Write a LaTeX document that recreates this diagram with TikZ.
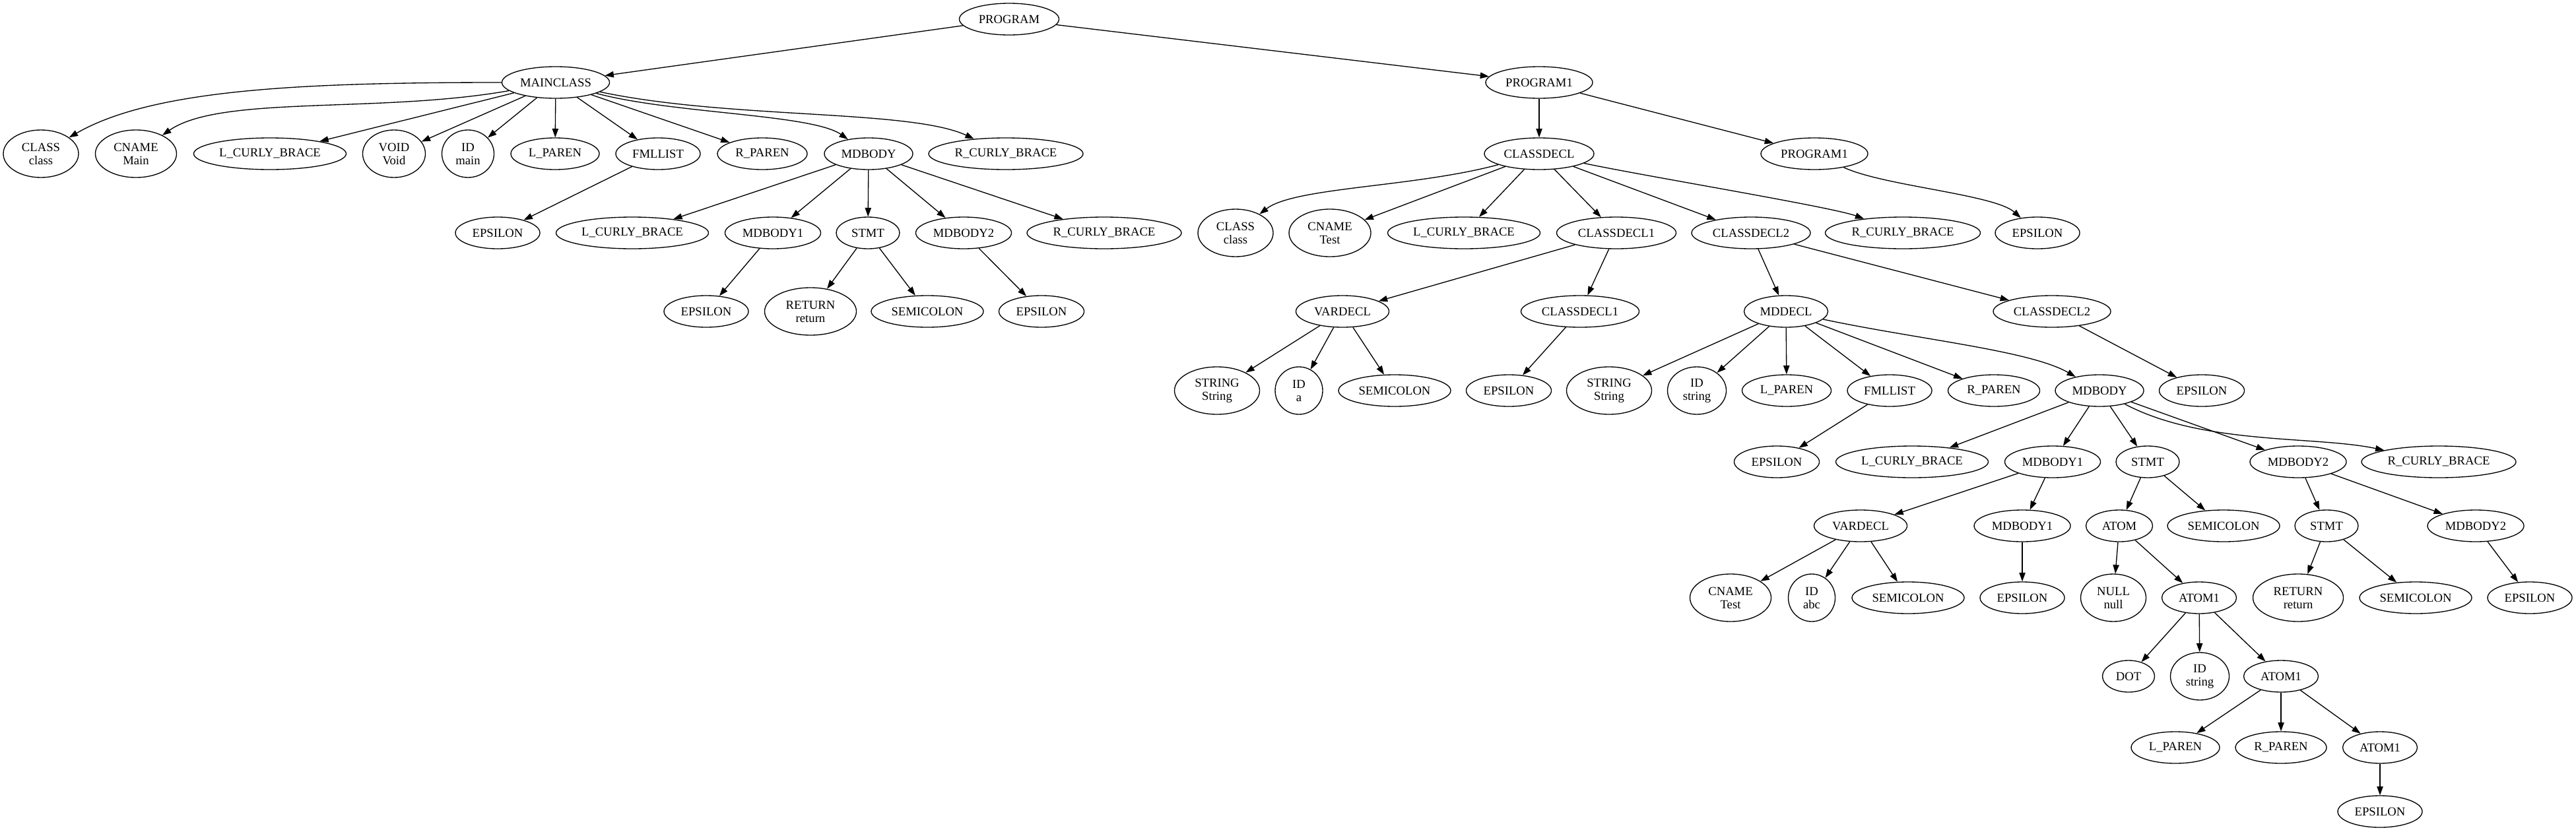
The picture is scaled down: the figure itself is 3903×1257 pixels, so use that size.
\documentclass[tikz,border=0pt]{standalone}
\usepackage{fontspec}
\setmainfont{Liberation Serif}
\usetikzlibrary{shapes.geometric,arrows.meta}
\tikzset{
  gv/.style={draw, ellipse, inner sep=0pt, line width=1pt, align=center,
    font=\fontsize{14pt}{15pt}\selectfont, minimum height=36pt},
  two/.style={minimum height=54pt},
  ewd/.style={minimum width=#1*0.75pt},
  arr/.style={-{Triangle[length=10pt,width=7pt]}, line width=1pt},
}
\begin{document}
\begin{tikzpicture}[x=0.75pt,y=-0.75pt]
\useasboundingbox (0,0) rectangle (3903,1257);
% level 0,1
\node[gv,ewd=151] (prog) at (1529,29) {PROGRAM};
\node[gv,ewd=163] (main) at (842,125) {MAINCLASS};
\node[gv,ewd=162] (p1) at (2332,125) {PROGRAM1};
% level 2 (y=233)
\node[gv,two,ewd=114] (a1) at (62,233) {CLASS\\class};
\node[gv,two,ewd=123] (a2) at (206,233) {CNAME\\Main};
\node[gv,ewd=231] (a3) at (409,233) {L\_CURLY\_BRACE};
\node[gv,two,ewd=95] (a4) at (597,233) {VOID\\Void};
\node[gv,two,ewd=79] (a5) at (709,233) {ID\\main};
\node[gv,ewd=134] (a6) at (841,233) {L\_PAREN};
\node[gv,ewd=128] (a7) at (997,233) {FMLLIST};
\node[gv,ewd=136] (a8) at (1155,233) {R\_PAREN};
\node[gv,ewd=134] (a9) at (1316,233) {MDBODY};
\node[gv,ewd=234] (a10) at (1524,233) {R\_CURLY\_BRACE};
\node[gv,ewd=166] (cd) at (2332,233) {CLASSDECL};
\node[gv,ewd=162] (p1b) at (2749,233) {PROGRAM1};
% level 3 (y=353)
\node[gv,ewd=128] (b1) at (754,353) {EPSILON};
\node[gv,ewd=231] (b2) at (958,353) {L\_CURLY\_BRACE};
\node[gv,ewd=145] (b3) at (1171,353) {MDBODY1};
\node[gv,ewd=96] (b4) at (1315,353) {STMT};
\node[gv,ewd=145] (b5) at (1460,353) {MDBODY2};
\node[gv,ewd=234] (b6) at (1673,353) {R\_CURLY\_BRACE};
\node[gv,two,ewd=114] (c1) at (1872,353) {CLASS\\class};
\node[gv,two,ewd=124] (c2) at (2015,353) {CNAME\\Test};
\node[gv,ewd=231] (c3) at (2218,353) {L\_CURLY\_BRACE};
\node[gv,ewd=181] (c4) at (2449,353) {CLASSDECL1};
\node[gv,ewd=180] (c5) at (2653,353) {CLASSDECL2};
\node[gv,ewd=235] (c6) at (2883,353) {R\_CURLY\_BRACE};
\node[gv,ewd=128] (c7) at (3087,353) {EPSILON};
% level 4 (y=472)
\node[gv,ewd=128] (d1) at (1070,472) {EPSILON};
\node[gv,two,ewd=139] (d2) at (1228,472) {RETURN\\return};
\node[gv,ewd=170] (d3) at (1405,472) {SEMICOLON};
\node[gv,ewd=129] (d4) at (1578,472) {EPSILON};
\node[gv,ewd=141] (e1) at (2034,472) {VARDECL};
\node[gv,ewd=179] (e2) at (2394,472) {CLASSDECL1};
\node[gv,ewd=127] (e3) at (2706,472) {MDDECL};
\node[gv,ewd=178] (e4) at (3109,472) {CLASSDECL2};
% level 5 (y=592)
\node[gv,two,ewd=129] (f1) at (1844,592) {STRING\\String};
\node[gv,two,ewd=72] (f2) at (1968,592) {ID\\a};
\node[gv,ewd=170] (f3) at (2113,592) {SEMICOLON};
\node[gv,ewd=129] (f4) at (2286,592) {EPSILON};
\node[gv,two,ewd=129] (f5) at (2438,592) {STRING\\String};
\node[gv,two,ewd=89] (f6) at (2571,592) {ID\\string};
\node[gv,ewd=135] (f7) at (2707,592) {L\_PAREN};
\node[gv,ewd=128] (f8) at (2863,592) {FMLLIST};
\node[gv,ewd=139] (f9) at (3021,592) {R\_PAREN};
\node[gv,ewd=134] (f10) at (3181,592) {MDBODY};
\node[gv,ewd=129] (f11) at (3336,592) {EPSILON};
% level 6 (y=700)
\node[gv,ewd=129] (g1) at (2692,700) {EPSILON};
\node[gv,ewd=231] (g2) at (2897,700) {L\_CURLY\_BRACE};
\node[gv,ewd=145] (g3) at (3110,700) {MDBODY1};
\node[gv,ewd=96] (g4) at (3254,700) {STMT};
\node[gv,ewd=146] (g5) at (3482,700) {MDBODY2};
\node[gv,ewd=234] (g6) at (3695,700) {R\_CURLY\_BRACE};
% level 7 (y=797)
\node[gv,ewd=141] (h1) at (2819,797) {VARDECL};
\node[gv,ewd=146] (h2) at (3064,797) {MDBODY1};
\node[gv,ewd=101] (h3) at (3211,797) {ATOM};
\node[gv,ewd=170] (h4) at (3369,797) {SEMICOLON};
\node[gv,ewd=96] (h5) at (3525,797) {STMT};
\node[gv,ewd=146] (h6) at (3751,797) {MDBODY2};
% level 8 (y=906)
\node[gv,two,ewd=123] (i1) at (2622,906) {CNAME\\Test};
\node[gv,two,ewd=71] (i2) at (2745,906) {ID\\abc};
\node[gv,ewd=170] (i3) at (2891,906) {SEMICOLON};
\node[gv,ewd=128] (i4) at (3064,906) {EPSILON};
\node[gv,two,ewd=99] (i5) at (3202,906) {NULL\\null};
\node[gv,ewd=113] (i6) at (3332,906) {ATOM1};
\node[gv,two,ewd=137] (i7) at (3482,906) {RETURN\\return};
\node[gv,ewd=170] (i8) at (3660,906) {SEMICOLON};
\node[gv,ewd=128] (i9) at (3833,906) {EPSILON};
% level 9 (y=1025)
\node[gv,ewd=79] (j1) at (3225,1025) {DOT};
\node[gv,two,ewd=89] (j2) at (3333,1025) {ID\\string};
\node[gv,ewd=113] (j3) at (3456,1025) {ATOM1};
% level 10 (y=1133)
\node[gv,ewd=134] (k1) at (3296,1133) {L\_PAREN};
\node[gv,ewd=138] (k2) at (3456,1133) {R\_PAREN};
\node[gv,ewd=113] (k3) at (3606,1133) {ATOM1};
% level 11
\node[gv,ewd=128] (l1) at (3606,1230) {EPSILON};

% edges
\draw[arr] (prog) -- (main);
\draw[arr] (prog) -- (p1);
\draw[arr] (main) to[out=180,in=30,out distance=225pt,in distance=110pt] (a1);
\draw[arr] (main) to[out=190,in=35,out distance=150pt,in distance=80pt] (a2);
\foreach \t in {a3,a4,a5,a6,a7,a8} \draw[arr] (main) -- (\t);
\draw[arr] (main) to[out=-15,in=145,out distance=90pt,in distance=50pt] (a9);
\draw[arr] (main) to[out=-12,in=155,out distance=150pt,in distance=80pt] (a10);
\draw[arr] (a7) -- (b1);
\foreach \t in {b2,b3,b4,b5,b6} \draw[arr] (a9) -- (\t);
\draw[arr] (b3) -- (d1);
\draw[arr] (b4) -- (d2);
\draw[arr] (b4) -- (d3);
\draw[arr] (b5) -- (d4);
\draw[arr] (p1) -- (cd);
\draw[arr] (p1) -- (p1b);
\draw[arr] (cd) to[out=195,in=38,out distance=100pt,in distance=50pt] (c1);
\foreach \t in {c2,c3,c4,c5} \draw[arr] (cd) -- (\t);
\draw[arr] (cd) to[out=-12,in=160,out distance=70pt,in distance=40pt] (c6);
\draw[arr] (p1b) to[out=-25,in=138,out distance=50pt,in distance=40pt] (c7);
\draw[arr] (c4) -- (e1);
\draw[arr] (c4) -- (e2);
\draw[arr] (c5) -- (e3);
\draw[arr] (c5) -- (e4);
\foreach \t in {f1,f2,f3} \draw[arr] (e1) -- (\t);
\draw[arr] (e2) -- (f4);
\foreach \t in {f5,f6,f7,f8,f9} \draw[arr] (e3) -- (\t);
\draw[arr] (e3) to[out=-12,in=150,out distance=110pt,in distance=60pt] (f10);
\draw[arr] (e4) -- (f11);
\draw[arr] (f8) -- (g1);
\foreach \t in {g2,g3,g4,g5} \draw[arr] (f10) -- (\t);
\draw[arr] (f10) to[out=-28,in=168,out distance=100pt,in distance=80pt] (g6);
\draw[arr] (g3) -- (h1);
\draw[arr] (g3) -- (h2);
\draw[arr] (g4) -- (h3);
\draw[arr] (g4) -- (h4);
\draw[arr] (g5) -- (h5);
\draw[arr] (g5) -- (h6);
\foreach \t in {i1,i2,i3} \draw[arr] (h1) -- (\t);
\draw[arr] (h2) -- (i4);
\draw[arr] (h3) -- (i5);
\draw[arr] (h3) -- (i6);
\draw[arr] (h5) -- (i7);
\draw[arr] (h5) -- (i8);
\draw[arr] (h6) -- (i9);
\foreach \t in {j1,j2,j3} \draw[arr] (i6) -- (\t);
\foreach \t in {k1,k2,k3} \draw[arr] (j3) -- (\t);
\draw[arr] (k3) -- (l1);
\end{tikzpicture}
\end{document}
